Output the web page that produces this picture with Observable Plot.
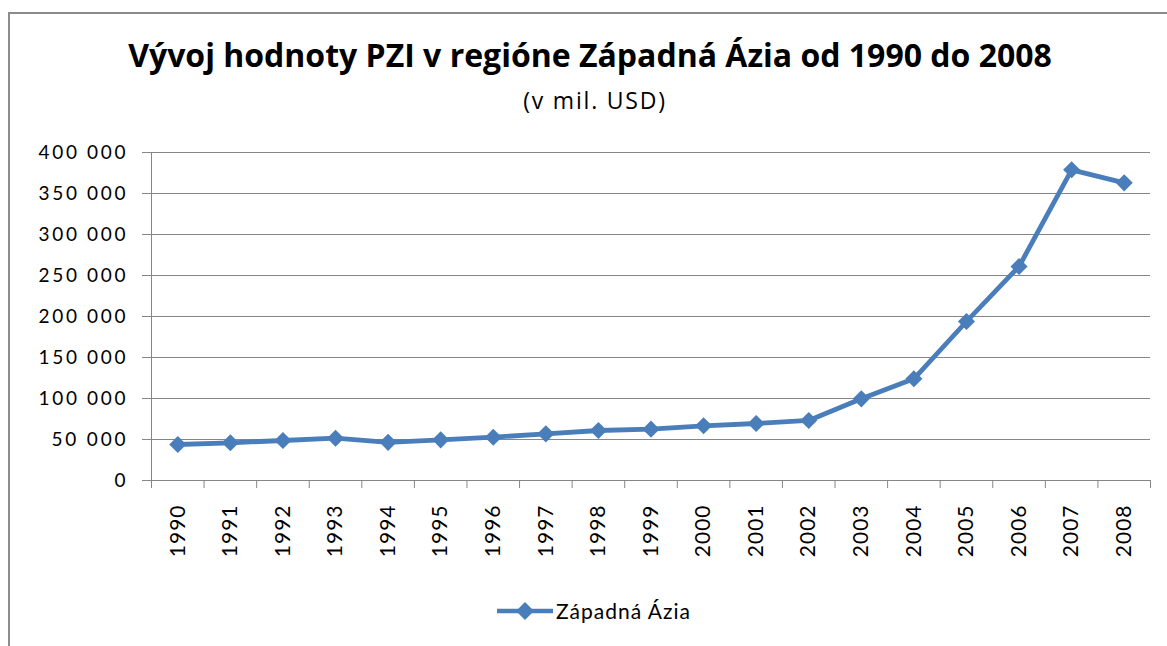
<!DOCTYPE html>
<html><head><meta charset="utf-8">
<script src="https://cdn.jsdelivr.net/npm/d3@7"></script>
<script src="https://cdn.jsdelivr.net/npm/@observablehq/plot@0.6"></script>
<style>
body{margin:0;background:#fff;}
#wrap{position:relative;width:1167px;height:646px;overflow:hidden;font-family:Lato,"Open Sans",sans-serif;color:#000;}
#frame{position:absolute;left:8px;top:12px;width:1200px;height:700px;border:2px solid #8c8c8c;box-sizing:border-box;}
#title{position:absolute;left:0;top:33px;width:1180px;text-align:center;font-family:"Open Sans",sans-serif;font-weight:bold;font-size:32px;line-height:44px;white-space:nowrap;}
#subtitle{position:absolute;left:0;top:85px;width:1190px;text-align:center;font-family:"Open Sans",sans-serif;font-size:23px;letter-spacing:1.8px;line-height:30px;white-space:nowrap;}
#chart{position:absolute;left:0;top:140px;}
#chart [aria-label="x-axis tick label"]{letter-spacing:1px;}
#legend{position:absolute;left:496px;top:598px;display:flex;align-items:center;font-size:21px;letter-spacing:1px;white-space:nowrap;}
</style>
</head><body>
<div id="wrap">
  <div id="frame"></div>
  <div id="title">Vývoj hodnoty PZI v regióne Západná Ázia od 1990 do 2008</div>
  <div id="subtitle">(v mil. USD)</div>
  <div id="chart"></div>
  <div id="legend"></div>
</div>
<script>
const years = [1990,1991,1992,1993,1994,1995,1996,1997,1998,1999,2000,2001,2002,2003,2004,2005,2006,2007,2008];
const values = [43900,46000,48800,51600,46500,49600,52800,56900,61000,62600,66700,69500,73200,99600,124000,193900,261000,378900,363000];
const yTicks = [0,50000,100000,150000,200000,250000,300000,350000,400000];
const seriesName = "Západná Ázia";
const lineColor = "#4a7ebb";
const gridColor = "#868686";

const data = years.map((year, i) => ({year, value: values[i]}));
const boundaries = [...years.map(y => y - 0.5), years[years.length - 1] + 0.5];
const fmt = d => d3.format(",")(d).replace(/,/g, " ");

const chart = Plot.plot({
  width: 1167, height: 420,
  marginTop: 12, marginBottom: 80, marginLeft: 151, marginRight: 17,
  style: {fontFamily: "Lato, 'Open Sans', sans-serif", fontSize: "19px", color: "#000", background: "transparent", overflow: "visible"},
  x: {type: "linear", domain: [years[0] - 0.5, years[years.length - 1] + 0.5], label: null},
  y: {domain: [0, 400000], label: null},
  marks: [
    Plot.gridY(yTicks, {stroke: gridColor, strokeOpacity: 1, strokeWidth: 1}),
    Plot.axisY(yTicks, {tickSize: 9, tickPadding: 17, stroke: gridColor, strokeOpacity: 1, tickFormat: fmt, fontSize: 19}),
    Plot.ruleX([years[0] - 0.5], {stroke: gridColor, strokeWidth: 1}),
    Plot.axisX(boundaries, {tickSize: 8, tickFormat: () => "", stroke: gridColor, strokeOpacity: 1}),
    Plot.axisX(years, {tickSize: 0, tickPadding: 24, tickRotate: -90, tickFormat: d => String(d), fontSize: 21}),
    Plot.line(data, {x: "year", y: "value", stroke: lineColor, strokeWidth: 4.8, strokeLinejoin: "round"}),
    Plot.dot(data, {x: "year", y: "value", symbol: "diamond2", r: 7.7, fill: lineColor, stroke: "none"})
  ]
});
// widen y tick labels to the reference's spacing (about 13px per digit, 9px per group gap)
chart.querySelectorAll('[aria-label="y-axis tick label"] text').forEach(t => {
  const s = t.textContent;
  if (s.length > 1) {
    const len = [...s].reduce((a, c) => a + (c === " " ? 9 : 13), 0);
    t.setAttribute("textLength", len);
    t.setAttribute("lengthAdjust", "spacing");
  }
});
document.getElementById("chart").appendChild(chart);

const legend = document.getElementById("legend");
legend.innerHTML = `<svg width="58" height="20" style="margin-right:2px"><line x1="1" y1="10" x2="57" y2="10" stroke="${lineColor}" stroke-width="4.5"/><path d="M29,1 L38,10 L29,19 L20,10 Z" fill="${lineColor}"/></svg><span>${seriesName}</span>`;
</script>
</body></html>
